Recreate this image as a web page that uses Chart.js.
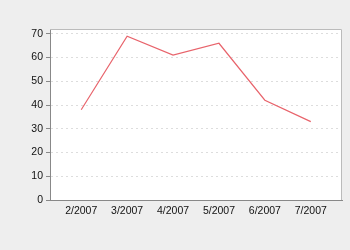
<!DOCTYPE html>
<html>
<head>
<meta charset="utf-8">
<script src="https://cdn.jsdelivr.net/npm/chart.js@4"></script>
<style>
  html, body { margin: 0; padding: 0; background: #eeeeee; }
  #wrap { width: 350px; height: 250px; }
</style>
</head>
<body>
<div id="wrap"><canvas id="lineChart"></canvas></div>
<script>
// DATA
const months = ['2/2007', '3/2007', '4/2007', '5/2007', '6/2007', '7/2007'];
const values = [38, 69, 61, 66, 42, 33];
const yTicks = [0, 10, 20, 30, 40, 50, 60, 70];

Chart.defaults.font.family = '"Liberation Sans", Arial, sans-serif';
Chart.defaults.font.size = 10.5;
Chart.defaults.color = '#111';

// white plot area + light frame
const plotFrame = {
  id: 'plotFrame',
  beforeDraw(chart) {
    const a = chart.chartArea, c = chart.ctx;
    c.save();
    c.fillStyle = '#fff';
    c.fillRect(a.left, a.top, a.right - a.left, a.bottom - a.top);
    c.restore();
  },
  afterDraw(chart) {
    const a = chart.chartArea, c = chart.ctx;
    c.save();
    c.strokeStyle = '#bbbbbb';
    c.lineWidth = 1;
    c.beginPath();
    c.moveTo(a.left, a.top + 0.5);
    c.lineTo(a.right - 0.5, a.top + 0.5);
    c.lineTo(a.right - 0.5, a.bottom);
    c.stroke();
    c.restore();
  }
};

let ctx = document.getElementById('lineChart').getContext('2d');
let chart = new Chart(ctx, {
  type: 'line',
  data: {
    datasets: [{
      data: values.map((v, i) => ({ x: i, y: v })),
      borderColor: '#e8636b',
      borderWidth: 1.2,
      pointRadius: 0,
      tension: 0,
      fill: false
    }]
  },
  options: {
    responsive: true,
    maintainAspectRatio: false,
    animation: false,
    layout: { padding: { top: 29, right: 8, left: 0, bottom: 0 } },
    plugins: { legend: { display: false }, tooltip: { enabled: false } },
    scales: {
      x: {
        type: 'linear',
        min: -0.68,
        max: 5.68,
        afterBuildTicks: (s) => { s.ticks = months.map((m, i) => ({ value: i })); },
        afterFit: (s) => { s.height = 50; },
        ticks: {
          callback: (v) => months[v],
          padding: 5,
          autoSkip: false,
          maxRotation: 0
        },
        grid: { display: false, drawTicks: false },
        border: { color: '#888', width: 1 }
      },
      y: {
        min: 0,
        max: 72,
        afterBuildTicks: (s) => { s.ticks = yTicks.map(v => ({ value: v })); },
        afterFit: (s) => { s.width = 50; },
        ticks: { padding: 3 },
        grid: {
          color: '#dddddd',
          tickColor: '#888',
          tickLength: 4,
          drawOnChartArea: true
        },
        border: { color: '#888', width: 1, dash: [2, 3] }
      }
    }
  },
  plugins: [plotFrame]
});
</script>
</body>
</html>
